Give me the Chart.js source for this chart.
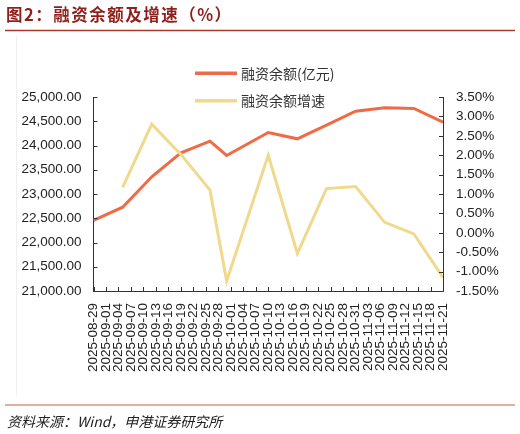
<!DOCTYPE html>
<html><head><meta charset="utf-8">
<script src="https://cdn.jsdelivr.net/npm/chart.js@4/dist/chart.umd.min.js"></script>
<style>html,body{margin:0;padding:0;background:#fff}canvas{display:block}</style>
</head><body><canvas id="c" width="520" height="434"></canvas>
<script>
// ---- data ----
const dates = ['2025-08-29','2025-09-05','2025-09-12','2025-09-19','2025-09-26','2025-09-30','2025-10-10','2025-10-17','2025-10-24','2025-10-31','2025-11-07','2025-11-14','2025-11-21'];
const balance = [22454, 22728, 23354, 23849, 24089, 23794, 24268, 24138, 24419, 24707, 24777, 24763, 24481];
const growth = [null, 1.17, 2.80, 2.02, 1.10, -1.24, 2.00, -0.53, 1.14, 1.19, 0.27, -0.03, -1.15];
const tickLabels = ['2025-08-29','2025-09-01','2025-09-04','2025-09-07','2025-09-10','2025-09-13','2025-09-16','2025-09-19','2025-09-22','2025-09-25','2025-09-28','2025-10-01','2025-10-04','2025-10-07','2025-10-10','2025-10-13','2025-10-16','2025-10-19','2025-10-22','2025-10-25','2025-10-28','2025-10-31','2025-11-03','2025-11-06','2025-11-09','2025-11-12','2025-11-15','2025-11-18','2025-11-21'];
const seriesNames = ['融资余额(亿元)', '融资余额增速'];
const titleText = '图2：融资余额及增速（%）';
const sourceText = '资料来源：Wind，申港证券研究所';

const DAY = 86400000;
const origin = Date.parse(tickLabels[0]);
const dayOf = s => Math.round((Date.parse(s) - origin) / DAY);

const ORANGE = '#EE6B45';
const YELLOW = '#F1D98C';
const TICKFONT = {family: '"Liberation Sans", Arial, sans-serif', size: 13.5};

const balancePts = dates.map((d, i) => ({x: dayOf(d), y: balance[i]}));
const growthPts = dates.map((d, i) => ({x: dayOf(d), y: growth[i]})).filter(p => p.y !== null);

const decor = {
  id: 'decor',
  beforeDraw(chart) {
    const c = chart.ctx;
    c.save();
    c.fillStyle = '#fff';
    c.fillRect(0, 0, chart.width, chart.height);
    c.strokeStyle = '#f0f0f0';
    c.lineWidth = 1;
    c.beginPath(); c.moveTo(16.5, 36); c.lineTo(16.5, 396); c.stroke();
    c.restore();
  },
  afterDraw(chart) {
    const c = chart.ctx;
    const a = chart.chartArea;
    c.save();
    // title
    c.fillStyle = '#8E1F1B';
    c.font = 'bold 16.5px "Noto Sans CJK SC", sans-serif';
    c.textBaseline = 'middle';
    c.textAlign = 'left';
    if ('letterSpacing' in c) c.letterSpacing = '1.5px';
    c.fillText(titleText, 6, 15);
    if ('letterSpacing' in c) c.letterSpacing = '0px';
    c.strokeStyle = '#A8392B';
    c.lineWidth = 1.5;
    c.beginPath(); c.moveTo(5, 30.5); c.lineTo(515, 30.5); c.stroke();
    // footer
    c.strokeStyle = '#D69482';
    c.lineWidth = 1.5;
    c.beginPath(); c.moveTo(5, 405); c.lineTo(515, 405); c.stroke();
    c.fillStyle = '#222';
    c.font = 'italic 14px "Noto Sans CJK SC", sans-serif';
    c.fillText(sourceText, 7, 422);
    // legend
    const cols = [ORANGE, YELLOW];
    const ly = [73.3, 100.7];
    c.font = '14px "Noto Sans CJK SC", sans-serif';
    chart.data.datasets.forEach((ds, i) => {
      c.strokeStyle = cols[i];
      c.lineWidth = 3.5;
      c.beginPath(); c.moveTo(195, ly[i]); c.lineTo(237, ly[i]); c.stroke();
      c.fillStyle = '#333';
      c.fillText(ds.label, 241, ly[i]);
    });
    // inside tick marks
    c.strokeStyle = '#333';
    c.lineWidth = 1;
    const yl = chart.scales.y, yr = chart.scales.y1, x = chart.scales.x;
    yl.ticks.forEach(t => {
      const p = Math.round(yl.getPixelForValue(t.value)) + 0.5;
      c.beginPath(); c.moveTo(a.left, p); c.lineTo(a.left + 4, p); c.stroke();
    });
    yr.ticks.forEach(t => {
      const p = Math.round(yr.getPixelForValue(t.value)) + 0.5;
      c.beginPath(); c.moveTo(a.right - 4, p); c.lineTo(a.right, p); c.stroke();
    });
    x.ticks.forEach(t => {
      const p = Math.round(x.getPixelForValue(t.value)) + 0.5;
      c.beginPath(); c.moveTo(p, a.bottom); c.lineTo(p, a.bottom - 4); c.stroke();
    });
    c.restore();
  }
};

const axisCommon = {
  grid: {display: true, drawOnChartArea: false, drawTicks: false},
  border: {display: true, color: '#333', width: 1}
};

new Chart(document.getElementById('c'), {
  type: 'line',
  data: {
    datasets: [
      {label: seriesNames[0], data: balancePts, yAxisID: 'y', borderColor: ORANGE, backgroundColor: ORANGE, borderWidth: 3, pointRadius: 0, tension: 0, order: 2},
      {label: seriesNames[1], data: growthPts, yAxisID: 'y1', borderColor: YELLOW, backgroundColor: YELLOW, borderWidth: 3, pointRadius: 0, tension: 0, order: 1}
    ]
  },
  options: {
    responsive: false,
    animation: false,
    devicePixelRatio: 1,
    layout: {padding: {top: 97, bottom: 54, left: 0, right: 0}},
    plugins: {legend: {display: false}, tooltip: {enabled: false}},
    scales: {
      x: {
        type: 'linear',
        min: dayOf(tickLabels[0]),
        max: dayOf(tickLabels[tickLabels.length - 1]),
        ...axisCommon,
        afterBuildTicks: s => { s.ticks = tickLabels.map(t => ({value: dayOf(t)})); },
        afterFit: s => { s.height = 89; },
        ticks: {
          autoSkip: false, minRotation: 90, maxRotation: 90, padding: 12,
          color: '#222', font: TICKFONT,
          callback: v => { const f = tickLabels.find(t => dayOf(t) === v); return f || ''; }
        }
      },
      y: {
        position: 'left', min: 21000, max: 25000,
        ...axisCommon,
        afterFit: s => { s.width = 93.5; },
        ticks: {
          stepSize: 500, padding: 12, color: '#222', font: TICKFONT,
          callback: v => Number(v).toLocaleString('en-US', {minimumFractionDigits: 2, maximumFractionDigits: 2})
        }
      },
      y1: {
        position: 'right', min: -1.5, max: 3.5,
        ...axisCommon,
        afterFit: s => { s.width = 77; },
        ticks: {
          stepSize: 0.5, padding: 13, color: '#222', font: TICKFONT,
          callback: v => Number(v).toFixed(2) + '%'
        }
      }
    }
  },
  plugins: [decor]
});
</script>
</body></html>
